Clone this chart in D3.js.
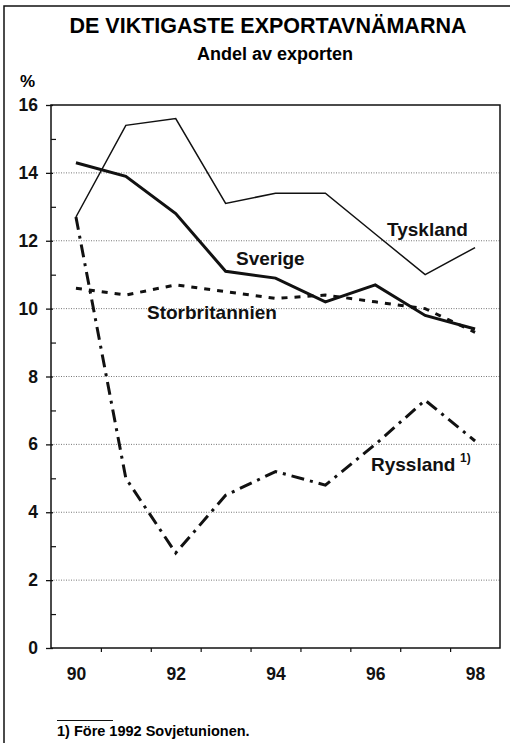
<!DOCTYPE html>
<html>
<head>
<meta charset="utf-8">
<script src="https://cdn.jsdelivr.net/npm/d3@7"></script>
<style>
  body { margin: 0; background: #fff; }
  svg { display: block; font-family: "Liberation Sans", Arial, sans-serif; font-weight: bold; }
</style>
</head>
<body>
<svg id="chart" width="510" height="743"></svg>
<script>
'use strict'

const years = [90, 91, 92, 93, 94, 95, 96, 97, 98];
const tyskland = [12.7, 15.4, 15.6, 13.1, 13.4, 13.4, 12.2, 11.0, 11.8];
const sverige = [14.3, 13.9, 12.8, 11.1, 10.9, 10.2, 10.7, 9.8, 9.4];
const storbritannien = [10.6, 10.4, 10.7, 10.5, 10.3, 10.4, 10.2, 10.0, 9.3];
const ryssland = [12.7, 5.0, 2.8, 4.5, 5.2, 4.8, 6.0, 7.3, 6.1];
const yTicks = [0, 2, 4, 6, 8, 10, 12, 14, 16];
const xLabels = [90, 92, 94, 96, 98];

const svg = d3.select('#chart');
const plotLeft = 51, plotRight = 500, plotTop = 105, plotBottom = 648;

const x = d3.scaleLinear().domain([89.5, 98.5]).range([plotLeft, plotRight]);
const y = d3.scaleLinear().domain([0, 16]).range([plotBottom, plotTop]);

// outer frame
svg.append('path')
  .attr('d', 'M4,743 V6 H510')
  .attr('fill', 'none').attr('stroke', '#111').attr('stroke-width', 1.5);

// titles
svg.append('text').attr('x', 268).attr('y', 33).attr('text-anchor', 'middle')
  .attr('font-size', 21.5).text('DE VIKTIGASTE EXPORTAVNÄMARNA');
svg.append('text').attr('x', 275).attr('y', 60).attr('text-anchor', 'middle')
  .attr('font-size', 18).text('Andel av exporten');
svg.append('text').attr('x', 20).attr('y', 87).attr('font-size', 17).text('%');

// grid
svg.append('g').selectAll('line')
  .data(yTicks.filter(d => d > 0 && d < 16))
  .join('line')
    .attr('x1', plotLeft).attr('x2', plotRight)
    .attr('y1', d => y(d)).attr('y2', d => y(d))
    .attr('stroke', '#777').attr('stroke-width', 1).attr('stroke-dasharray', '1,1.5');

// box
svg.append('rect')
  .attr('x', plotLeft).attr('y', plotTop)
  .attr('width', plotRight - plotLeft).attr('height', plotBottom - plotTop)
  .attr('fill', 'none').attr('stroke', '#111').attr('stroke-width', 1.5);

// y axis
const yAxis = svg.append('g')
  .attr('transform', 'translate(' + plotLeft + ',0)')
  .call(d3.axisLeft(y).tickValues(yTicks).tickSize(5).tickPadding(8));
yAxis.select('.domain').remove();
yAxis.selectAll('line').attr('x2', -5).attr('x1', 2).attr('stroke', '#111').attr('stroke-width', 1.3);
yAxis.selectAll('text').attr('font-size', 17.5).attr('font-family', null).attr('fill', '#111');

const yMinor = svg.append('g')
  .attr('transform', 'translate(' + plotLeft + ',0)')
  .call(d3.axisRight(y).tickValues(d3.range(1, 16, 2)).tickSize(5).tickFormat(''));
yMinor.select('.domain').remove();
yMinor.selectAll('line').attr('stroke', '#111').attr('stroke-width', 1.2);

// x axis
const xTicks = svg.append('g')
  .attr('transform', 'translate(0,' + plotBottom + ')')
  .call(d3.axisBottom(x).tickValues(d3.range(90.5, 98, 1)).tickSize(4).tickFormat(''));
xTicks.select('.domain').remove();
xTicks.selectAll('line').attr('stroke', '#111').attr('stroke-width', 1.2);

const xAxis = svg.append('g')
  .attr('transform', 'translate(0,' + plotBottom + ')')
  .call(d3.axisBottom(x).tickValues(xLabels).tickSize(0).tickPadding(20));
xAxis.select('.domain').remove();
xAxis.selectAll('text').attr('font-size', 17.5).attr('font-family', null).attr('fill', '#111');

// lines
const line = d3.line().x((d, i) => x(years[i])).y(d => y(d));
const series = [
  { values: tyskland, width: 1.5, dash: null },
  { values: storbritannien, width: 3, dash: '6,7' },
  { values: ryssland, width: 3, dash: '13,6,3,6' },
  { values: sverige, width: 3, dash: null }
];
svg.append('g').selectAll('path')
  .data(series)
  .join('path')
    .attr('d', d => line(d.values))
    .attr('fill', 'none')
    .attr('stroke', '#111')
    .attr('stroke-width', d => d.width)
    .attr('stroke-dasharray', d => d.dash)
    .attr('stroke-linejoin', 'miter');

// labels
const lab = svg.append('g').attr('font-size', 19).attr('fill', '#111');
lab.append('text').attr('x', 387).attr('y', 236).text('Tyskland');
lab.append('text').attr('x', 236).attr('y', 265).text('Sverige');
lab.append('text').attr('x', 147).attr('y', 319).text('Storbritannien');
lab.append('text').attr('x', 371).attr('y', 471).text('Ryssland');
lab.append('text').attr('x', 460).attr('y', 462).attr('font-size', 12).text('1)');

// footnote
svg.append('line').attr('x1', 57).attr('x2', 113).attr('y1', 720.5).attr('y2', 720.5)
  .attr('stroke', '#111').attr('stroke-width', 1);
svg.append('text').attr('x', 57).attr('y', 736).attr('font-size', 14.5).text('1) Före 1992 Sovjetunionen.');
</script>
</body>
</html>
